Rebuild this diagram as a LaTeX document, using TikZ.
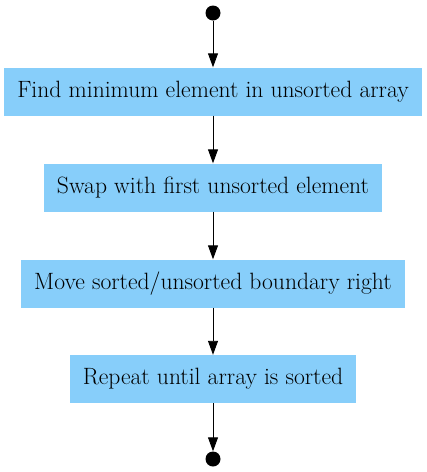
\documentclass[tikz,border=0pt]{standalone}
\usepackage{tikz}
\usetikzlibrary{shapes,arrows.meta}
\definecolor{boxblue}{HTML}{87CEFA}
\tikzset{
  stepbox/.style={fill=boxblue,minimum height=48pt,inner xsep=13pt,font=\fontsize{23.6}{28}\selectfont},
  enddot/.style={circle,fill=black,minimum size=15pt,inner sep=0pt},
  flow/.style={-{Triangle[length=14pt,width=10pt]},line width=0.9pt}
}

\begin{document}
\begin{tikzpicture}[x=1pt,y=-1pt]
\useasboundingbox (0,0) rectangle (427,472);
\node[enddot] (start) at (213,13) {};
\node[stepbox] (find) at (213,91.5) {Find minimum element in unsorted array};
\node[stepbox] (swap) at (213,187.5) {Swap with first unsorted element};
\node[stepbox] (move) at (213,283.5) {Move sorted/unsorted boundary right};
\node[stepbox] (repeat) at (213,379) {Repeat until array is sorted};
\node[enddot] (stop) at (213,459) {};
\draw[flow] (start) -- (find);
\draw[flow] (find) -- (swap);
\draw[flow] (swap) -- (move);
\draw[flow] (move) -- (repeat);
\draw[flow] (repeat) -- (stop);
\end{tikzpicture}
\end{document}
